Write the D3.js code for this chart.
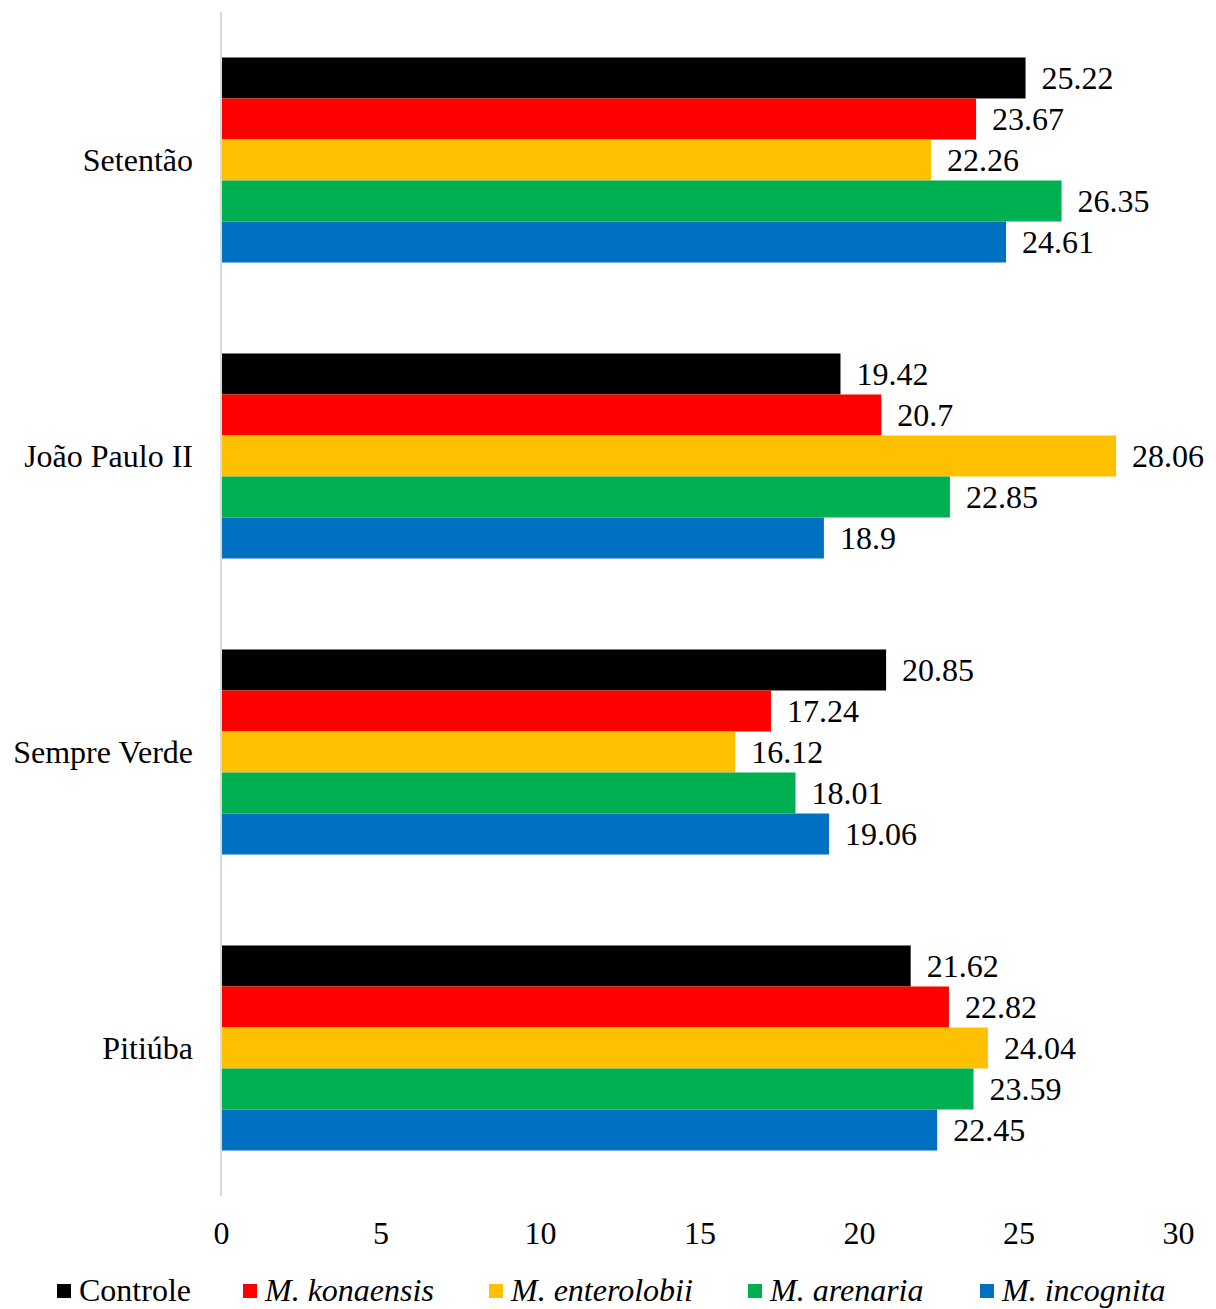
<!DOCTYPE html>
<html>
<head>
<meta charset="utf-8">
<script src="https://cdn.jsdelivr.net/npm/d3@7"></script>
<style>
  html, body { margin: 0; padding: 0; background: #fff; }
  svg { display: block; font-family: "Liberation Serif", "Times New Roman", serif; }
</style>
</head>
<body>
<svg id="chart" width="1216" height="1309"></svg>
<script>
// Cultivars (categories) and nematode treatments (series)
const cultivars = ["Setentão", "João Paulo II", "Sempre Verde", "Pitiúba"];
const seriesNames = ["Controle", "M. konaensis", "M. enterolobii", "M. arenaria", "M. incognita"];
const seriesColors = ["#000000", "#FF0000", "#FFC000", "#00B050", "#0070C0"];
const seriesItalic = [false, true, true, true, true];

// Values per series, in cultivar order
const controle = [25.22, 19.42, 20.85, 21.62];
const konaensis = [23.67, 20.7, 17.24, 22.82];
const enterolobii = [22.26, 28.06, 16.12, 24.04];
const arenaria = [26.35, 22.85, 18.01, 23.59];
const incognita = [24.61, 18.9, 19.06, 22.45];
const seriesValues = [controle, konaensis, enterolobii, arenaria, incognita];

const xTicks = [0, 5, 10, 15, 20, 25, 30];

const svg = d3.select("#chart");
const plotLeft = 221, plotRight = 1178, plotTop = 12, plotBottom = 1196;
const fontSize = 32;

const x = d3.scaleLinear().domain([0, 30]).range([plotLeft, plotRight]);
const y0 = d3.scaleBand().domain(cultivars).range([plotTop, plotBottom])
  .paddingInner(0.3074).paddingOuter(0.1537);
const y1 = d3.scaleBand().domain(seriesNames).range([0, y0.bandwidth()]);

// Bars
const groups = svg.append("g").selectAll("g")
  .data(cultivars)
  .join("g")
  .attr("transform", d => `translate(0,${y0(d)})`);

groups.selectAll("rect")
  .data((c, ci) => seriesNames.map((s, si) => ({ s, si, v: seriesValues[si][ci] })))
  .join("rect")
  .attr("x", x(0))
  .attr("y", d => y1(d.s))
  .attr("width", d => x(d.v) - x(0))
  .attr("height", y1.bandwidth())
  .attr("fill", d => seriesColors[d.si]);

// Value labels
groups.selectAll("text.val")
  .data((c, ci) => seriesNames.map((s, si) => ({ s, si, v: seriesValues[si][ci] })))
  .join("text")
  .attr("class", "val")
  .attr("x", d => x(d.v) + 16)
  .attr("y", d => y1(d.s) + y1.bandwidth() / 2)
  .attr("dy", "0.35em")
  .attr("font-size", fontSize)
  .attr("fill", "#000")
  .text(d => String(d.v));

// Category axis line
svg.append("line")
  .attr("x1", plotLeft).attr("x2", plotLeft)
  .attr("y1", plotTop).attr("y2", plotBottom)
  .attr("stroke", "#d9d9d9").attr("stroke-width", 2);

// Category labels
svg.append("g").selectAll("text")
  .data(cultivars)
  .join("text")
  .attr("x", plotLeft - 28)
  .attr("y", d => y0(d) + y0.bandwidth() / 2)
  .attr("dy", "0.35em")
  .attr("text-anchor", "end")
  .attr("font-size", fontSize)
  .text(d => d);

// Value axis (ticks hidden, labels only)
const xAxis = svg.append("g")
  .attr("transform", `translate(0,${plotBottom})`)
  .call(d3.axisBottom(x).tickValues(xTicks).tickSize(0).tickPadding(25).tickFormat(d3.format("d")));
xAxis.select(".domain").remove();
xAxis.selectAll("text")
  .attr("font-family", "Liberation Serif, Times New Roman, serif")
  .attr("font-size", fontSize)
  .attr("fill", "#000");

// Legend
const legendX = [57, 243, 489, 748, 980];
const legend = svg.append("g").selectAll("g")
  .data(seriesNames)
  .join("g")
  .attr("transform", (d, i) => `translate(${legendX[i]},1291)`);
legend.append("rect")
  .attr("x", 0).attr("y", -7)
  .attr("width", 14).attr("height", 14)
  .attr("fill", (d, i) => seriesColors[i]);
legend.append("text")
  .attr("x", 22).attr("y", 0)
  .attr("dy", "0.3em")
  .attr("font-size", fontSize)
  .attr("font-style", (d, i) => seriesItalic[i] ? "italic" : "normal")
  .text(d => d);
</script>
</body>
</html>
